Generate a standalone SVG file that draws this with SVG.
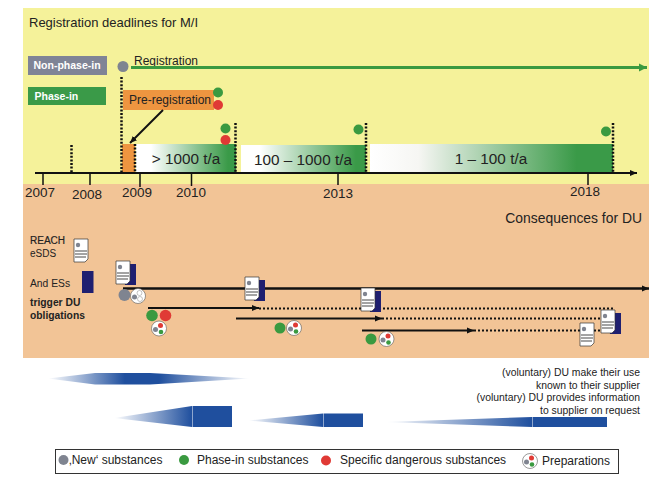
<svg xmlns="http://www.w3.org/2000/svg" xmlns:xlink="http://www.w3.org/1999/xlink" width="662" height="484" viewBox="0 0 662 484">
<style>
text{font-family:"Liberation Sans",Arial,sans-serif;fill:#222}
.g{fill:#3a9a40}.r{fill:#e03a35}.n{fill:#7f8490}
.dot{stroke:#111;stroke-width:2.500;stroke-dasharray:2 1.600;fill:none}
.dot2{stroke:#111;stroke-width:2;stroke-dasharray:2 2;fill:none}
.ln{stroke:#111;fill:none}
.yr{font-size:13.500px;text-anchor:middle}
.du{font-size:10.400px;text-anchor:end}
.lg{font-size:12px}
.ten{font-size:15.300px;text-anchor:middle}
</style>
<defs>
<linearGradient id="gg" x1="0" x2="1" y1="0" y2="0"><stop offset="0" stop-color="#fff"/><stop offset=".15" stop-color="#fff"/><stop offset=".92" stop-color="#3a9a48"/><stop offset="1" stop-color="#3a9a48"/></linearGradient>
<linearGradient id="gg3" x1="0" x2="1" y1="0" y2="0"><stop offset="0" stop-color="#fff"/><stop offset=".2" stop-color="#f6f6f3"/><stop offset=".85" stop-color="#3a9a48"/><stop offset="1" stop-color="#3a9a48"/></linearGradient>
<linearGradient id="bt" x1="0" x2="1" y1="0" y2="0"><stop offset="0" stop-color="#1f4f9e" stop-opacity="0"/><stop offset="1" stop-color="#1f4f9e"/></linearGradient>
<linearGradient id="bb" x1="0" x2="1" y1="0" y2="0"><stop offset="0" stop-color="#1f4f9e" stop-opacity="0"/><stop offset=".38" stop-color="#1f4f9e"/><stop offset=".55" stop-color="#1f4f9e"/><stop offset="1" stop-color="#1f4f9e" stop-opacity="0"/></linearGradient>
<marker id="ab" markerUnits="userSpaceOnUse" markerWidth="8" markerHeight="8" refX="7" refY="4" orient="auto"><path d="M0 1L7 4L0 7z" fill="#111"/></marker>
<marker id="ag" markerUnits="userSpaceOnUse" markerWidth="9" markerHeight="9" refX="8" refY="4.500" orient="auto"><path d="M0 .5L8 4.500L0 8.500z" fill="#3a9a40"/></marker>
<g id="doc"><path d="M0 0H14V20L11 23H0z" fill="#fff" stroke="#333" stroke-width=".7"/><circle cx="4" cy="6" r="2.200" fill="#7f8490"/><path d="M1 12H13M1 15H13M1 18H12" stroke="#333" stroke-width=".9"/></g>
<g id="docn"><path d="M6 3H20V24H9z" fill="#1f1f70"/><use href="#doc"/></g>
<g id="prep"><circle r="7.500" fill="#fff" stroke="#555" stroke-width=".6"/><circle cx="-3.500" cy="1" r="2.500" class="n"/><circle cx="1.500" cy="-3" r="2.500" class="r"/><circle cx="2" cy="3.500" r="2.300" class="g"/></g>
<g id="prepw"><circle r="7.500" fill="#fff" stroke="#555" stroke-width=".6"/><circle cx="-3.500" cy="1" r="2.500" class="n"/><circle cx="1.500" cy="-3" r="2.500" fill="#fff" stroke="#888" stroke-width=".5"/><circle cx="2" cy="3" r="2.500" fill="#fff" stroke="#888" stroke-width=".5"/></g>
</defs>

<rect x="23" y="8" width="626" height="176" fill="#f5f29a"/>
<rect x="23" y="184" width="626" height="174" fill="#f2c496"/>
<text x="29" y="27" font-size="13">Registration deadlines for M/I</text>
<text x="642" y="223" font-size="13.900" text-anchor="end">Consequences for DU</text>

<g id="non-phase-in"><rect x="28" y="56" width="79" height="19" fill="#7f8496"/><text x="33.500" y="69" font-size="10.500" font-weight="700" style="fill:#fff">Non-phase-in</text></g>
<g id="phase-in"><rect x="28" y="87" width="78" height="18" fill="#3a9a48"/><text x="34.500" y="100" font-size="10.500" font-weight="700" style="fill:#fff">Phase-in</text></g>
<g id="registration"><circle cx="123" cy="66.500" r="5.500" class="n"/><text x="134" y="65" font-size="12">Registration</text></g>
<g id="pre-registration"><rect x="123" y="90" width="91" height="20" fill="#ee9540"/><text x="129" y="104" font-size="12">Pre-registration</text><circle cx="218" cy="92.500" r="5" class="g"/><circle cx="218" cy="105" r="5" class="r"/></g>

<g id="bands">
<rect id="band-prereg" x="122" y="144" width="13" height="28" fill="#ee9540"/>
<g id="band-1000"><rect x="136" y="144" width="100" height="28" fill="url(#gg)"/><text x="186" y="164" class="ten">&gt; 1000 t/a</text></g>
<g id="band-100"><rect x="241" y="145" width="125" height="27" fill="url(#gg)"/><text x="303" y="165" class="ten">100 – 1000 t/a</text></g>
<g id="band-1"><rect x="370" y="144" width="243" height="28" fill="url(#gg3)"/><text x="491" y="164" class="ten">1 – 100 t/a</text></g>
</g>

<g id="connectors">
<path d="M131 67.500H647" stroke="#3a9a40" stroke-width="3" fill="none" marker-end="url(#ag)"/>
<path d="M163 110L130 143" stroke="#111" stroke-width="2" fill="none" marker-end="url(#ab)"/>
<path class="dot" d="M71.500 145V172M121.500 77V172M135 144V172M235.500 123V172M366 123V172M613 123V172"/>
<path class="ln" stroke-width="2" d="M35 173H637" marker-end="url(#ab)"/>
<path class="ln" stroke-width="1.500" d="M43 173V185M90 173V185M140 173V187M191.500 173V186M338 173V185M588 173V185"/>
<path class="ln" stroke-width="2.500" d="M123 288.500H649" marker-end="url(#ab)"/>
<path class="ln" stroke-width="2" d="M148 308H259" marker-end="url(#ab)"/>
<path class="dot2" d="M259 308.500H614"/>
<path class="ln" stroke-width="1.800" d="M236 318.500H382" marker-end="url(#ab)"/>
<path class="dot2" d="M382 318.500H601"/>
<path class="ln" stroke-width="2" d="M362 330.500H474" marker-end="url(#ab)"/>
<path class="dot2" d="M474 330.500H601"/>
</g>

<g id="years">
<text x="40" y="197" class="yr">2007</text><text x="87" y="199" class="yr">2008</text><text x="137" y="197" class="yr">2009</text><text x="191" y="197" class="yr">2010</text><text x="338" y="198" class="yr">2013</text><text x="585" y="196" class="yr">2018</text>
</g>
<g id="band-markers">
<circle cx="225.500" cy="128.500" r="5" class="g"/><circle cx="225.500" cy="140" r="5" class="r"/><circle cx="358.500" cy="129.500" r="5" class="g"/><circle cx="606" cy="131.500" r="5" class="g"/>
</g>

<g id="du-labels">
<text x="30" y="244" font-size="10" style="stroke:#222;stroke-width:.2">REACH</text><text x="30" y="257" font-size="10">eSDS</text>
<use href="#doc" x="74" y="239"/>
<text x="30" y="287" font-size="10.300">And ESs</text>
<rect x="82" y="271" width="11.500" height="22" fill="#1f1f70"/>
<text x="30" y="306" font-size="10.300" font-weight="700">trigger DU</text><text x="30" y="319" font-size="10.300" font-weight="700">obligations</text>
</g>

<g id="docs">
<use href="#docn" x="116" y="261"/><use href="#docn" x="245" y="277"/><use href="#docn" x="361" y="288"/><use href="#docn" x="601" y="310"/><use href="#doc" x="580" y="323"/>
</g>
<g id="substances">
<circle cx="124.500" cy="295" r="6" class="n"/><use href="#prepw" x="138" y="296"/>
<circle cx="152" cy="315.500" r="5.800" class="g"/><circle cx="165.500" cy="315.500" r="5.800" class="r"/><use href="#prep" x="159" y="328.500"/>
<circle cx="280" cy="328" r="5.500" class="g"/><use href="#prep" x="294" y="328"/>
<circle cx="371" cy="339" r="5.500" class="g"/><use href="#prep" x="386.500" y="339"/>
</g>

<g id="du-arrows">
<path d="M48 378.500L95 373H150L250 378.500L150 384.500H95z" fill="url(#bb)"/>
<path d="M114 418L192 406V427z" fill="url(#bt)"/><rect x="192.500" y="406" width="39.500" height="21" fill="#1f4f9e"/>
<path d="M248 420.500L323 413.500V427z" fill="url(#bt)"/><rect x="323.500" y="413.500" width="39.500" height="13.500" fill="#1f4f9e"/>
<path d="M385 422L532 417V427z" fill="url(#bt)"/><rect x="532.500" y="417" width="74.500" height="10" fill="#1f4f9e"/>
</g>
<g id="du-notes">
<text x="640" y="376" class="du">(voluntary) DU make their use</text><text x="640" y="389" class="du">known to their supplier</text><text x="640" y="401" class="du">(voluntary) DU provides information</text><text x="640" y="414" class="du">to supplier on request</text>
</g>
<g id="legend">
<rect x="55.500" y="449.500" width="563" height="24" fill="#fff" stroke="#333"/>
<circle cx="63.500" cy="460" r="5" class="n"/><text x="69" y="464" class="lg">‚New‘ substances</text>
<circle cx="184" cy="460" r="5" class="g"/><text x="197" y="464" class="lg">Phase-in substances</text>
<circle cx="326" cy="460.500" r="5" class="r"/><text x="340" y="464" class="lg">Specific dangerous substances</text>
<use href="#prep" x="530" y="461"/><text x="542" y="465" class="lg">Preparations</text>
</g>
</svg>
